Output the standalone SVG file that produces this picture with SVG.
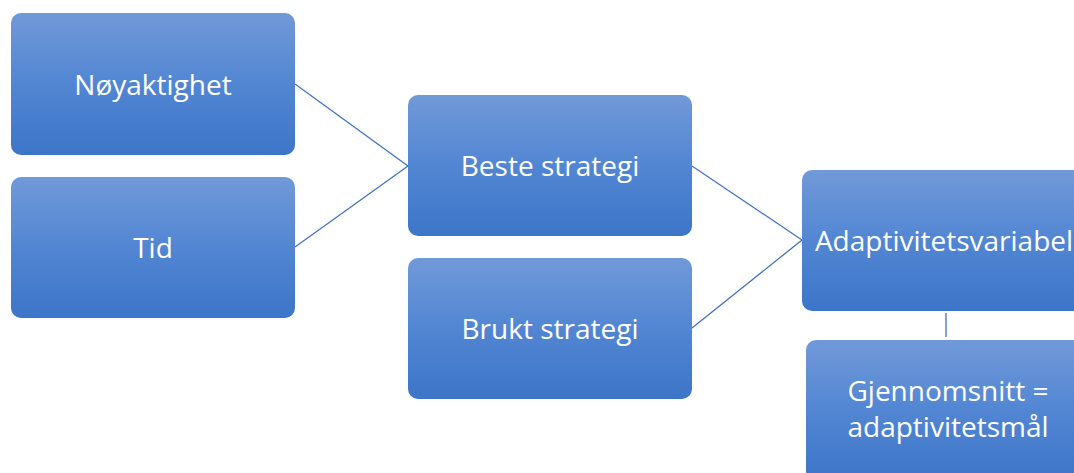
<svg xmlns="http://www.w3.org/2000/svg" width="1074" height="473" viewBox="0 0 1074 473">
<defs>
<linearGradient id="g" x1="0" y1="0" x2="0" y2="1">
<stop offset="0" stop-color="#7199d8"/>
<stop offset="0.5" stop-color="#5286d3"/>
<stop offset="1" stop-color="#3d75c8"/>
</linearGradient>
</defs>
<style>
.box{fill:url(#g);}
.t{font-family:"Open Sans","Liberation Sans",sans-serif;font-size:28px;fill:#ffffff;text-anchor:middle;}
.c{stroke:#4472c4;stroke-width:1.3;fill:none;}
</style>
<rect width="1074" height="473" fill="#ffffff"/>
<g id="connectors">
<path class="c" d="M295 84 L408 166 L295 247"/>
<path class="c" d="M692 166 L802 240 L692 328"/>
<path class="c" d="M946 313 L946 337" stroke-width="2"/>
</g>
<g id="n1"><rect class="box" x="11" y="13" width="284" height="142" rx="10"/><text class="t" x="153" y="95">Nøyaktighet</text></g>
<g id="n2"><rect class="box" x="11" y="177" width="284" height="141" rx="10"/><text class="t" x="153" y="258">Tid</text></g>
<g id="n3"><rect class="box" x="408" y="95" width="284" height="141" rx="10"/><text class="t" x="550" y="176">Beste strategi</text></g>
<g id="n4"><rect class="box" x="408" y="258" width="284" height="141" rx="10"/><text class="t" x="550" y="339">Brukt strategi</text></g>
<g id="n5"><rect class="box" x="802" y="170" width="284" height="141" rx="10"/><text class="t" x="944" y="251">Adaptivitetsvariabel</text></g>
<g id="n6"><rect class="box" x="806" y="340" width="284" height="141" rx="10"/><text class="t" x="948" y="401">Gjennomsnitt =</text><text class="t" x="948" y="437">adaptivitetsmål</text></g>
</svg>
